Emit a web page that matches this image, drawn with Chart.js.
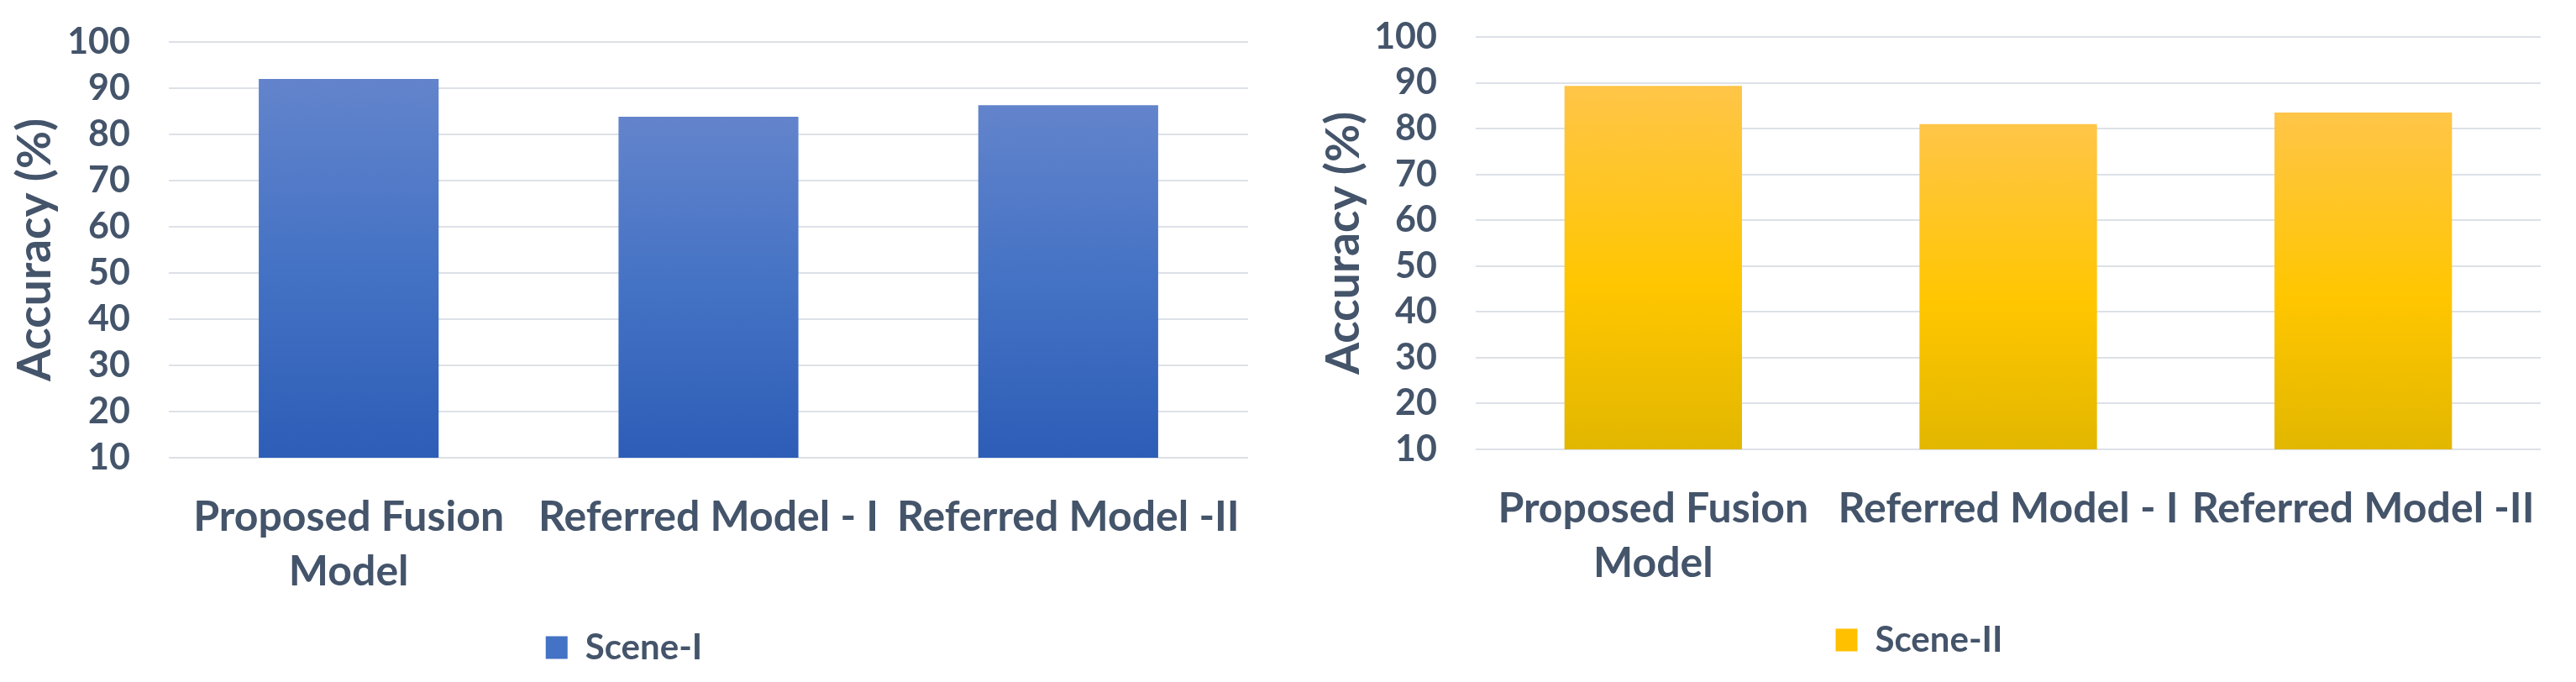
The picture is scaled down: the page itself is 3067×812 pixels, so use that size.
<!DOCTYPE html>
<html>
<head>
<meta charset="utf-8">
<script src="https://cdn.jsdelivr.net/npm/chart.js@4.4.0/dist/chart.umd.min.js"></script>
<style>
    html, body { margin: 0; padding: 0; background: #fff; }
    body { width: 3067px; height: 812px; position: relative; overflow: hidden; }
    .box { position: absolute; top: 0; }
</style>
</head>
<body>
<div class="box" style="left:0px;"><canvas id="scene1" width="1510" height="812"></canvas></div>
<div class="box" style="left:1545px;"><canvas id="scene2" width="1522" height="812"></canvas></div>
<script>
const models = [['Proposed Fusion', 'Model'], 'Referred Model - I', 'Referred Model -II']
const scene1 = [92.0, 83.8, 86.3]
const scene2 = [89.3, 81.0, 83.5]
const yTicks = [10, 20, 30, 40, 50, 60, 70, 80, 90, 100]

const textColor = '#44546A'
const gridColor = '#DDE1E7'

// per-bar vertical gradient, like the Excel fill
function barFill(stops, fallback) {
    return (ctx) => {
        const chart = ctx.chart
        if (!chart.chartArea || ctx.type !== 'data') return fallback
        const y = chart.scales.y
        const top = y.getPixelForValue(ctx.raw)
        const bottom = y.getPixelForValue(y.min)
        const g = chart.ctx.createLinearGradient(0, top, 0, bottom)
        stops.forEach(s => g.addColorStop(s[0], s[1]))
        return g
    }
}

function makeChart(id, label, values, stops, legendColor, cfg) {
    return new Chart(document.getElementById(id), {
        type: 'bar',
        data: {
            labels: models,
            datasets: [{
                label: label,
                data: values,
                backgroundColor: barFill(stops, legendColor),
                borderWidth: 0,
                barPercentage: 0.5,
                categoryPercentage: 1
            }]
        },
        options: {
            responsive: false,
            animation: false,
            devicePixelRatio: 1,
            layout: {
                padding: { top: cfg.top, bottom: cfg.bottom, left: 0, right: cfg.right }
            },
            plugins: {
                tooltip: { enabled: false },
                legend: {
                    position: 'bottom',
                    labels: {
                        color: textColor,
                        boxWidth: 26,
                        boxHeight: 27,
                        padding: 10,
                        font: { family: 'Lato', size: 42, weight: 'bold' },
                        generateLabels: (chart) => [{
                            text: label,
                            fillStyle: legendColor,
                            strokeStyle: legendColor,
                            lineWidth: 0,
                            fontColor: textColor,
                            datasetIndex: 0
                        }]
                    }
                }
            },
            scales: {
                x: {
                    grid: { display: false },
                    border: { display: false },
                    ticks: {
                        color: textColor,
                        padding: 30,
                        maxRotation: 0,
                        autoSkip: false,
                        font: { family: 'Lato', size: 50, weight: 'bold', lineHeight: 1.3 }
                    },
                    afterFit: (scale) => {
                        scale.height = cfg.xHeight
                        scale.paddingLeft = 0
                        scale.paddingRight = 0
                    }
                },
                y: {
                    min: 10,
                    max: 100,
                    afterBuildTicks: (scale) => { scale.ticks = yTicks.map(v => ({ value: v })) },
                    grid: { color: gridColor, lineWidth: 2, drawTicks: false },
                    border: { display: false },
                    ticks: {
                        color: textColor,
                        padding: 46,
                        autoSkip: false,
                        font: { family: 'Lato', size: 43, weight: 'bold' }
                    },
                    title: {
                        display: true,
                        text: 'Accuracy (%)',
                        color: textColor,
                        padding: { top: cfg.titlePad, bottom: 0 },
                        font: { family: 'Lato', size: 55, weight: 'bold', lineHeight: 1 }
                    },
                    afterFit: (scale) => {
                        scale.width = cfg.yWidth
                        // tick padding should not push the plot down
                        scale.paddingTop = 0
                        scale.paddingBottom = 0
                    }
                }
            }
        }
    })
}

makeChart('scene1', 'Scene-I', scene1,
    [[0, '#6384CC'], [0.5, '#4472C4'], [1, '#2D5DB7']], '#4472C4',
    { top: 50, bottom: 10, right: 24, xHeight: 195, yWidth: 201, titlePad: 15 })

makeChart('scene2', 'Scene-II', scene2,
    [[0, '#FFC548'], [0.55, '#FFC600'], [1, '#E2B700']], '#FFC000',
    { top: 44, bottom: 19, right: 42, xHeight: 196, yWidth: 212, titlePad: 28 })
</script>
</body>
</html>
